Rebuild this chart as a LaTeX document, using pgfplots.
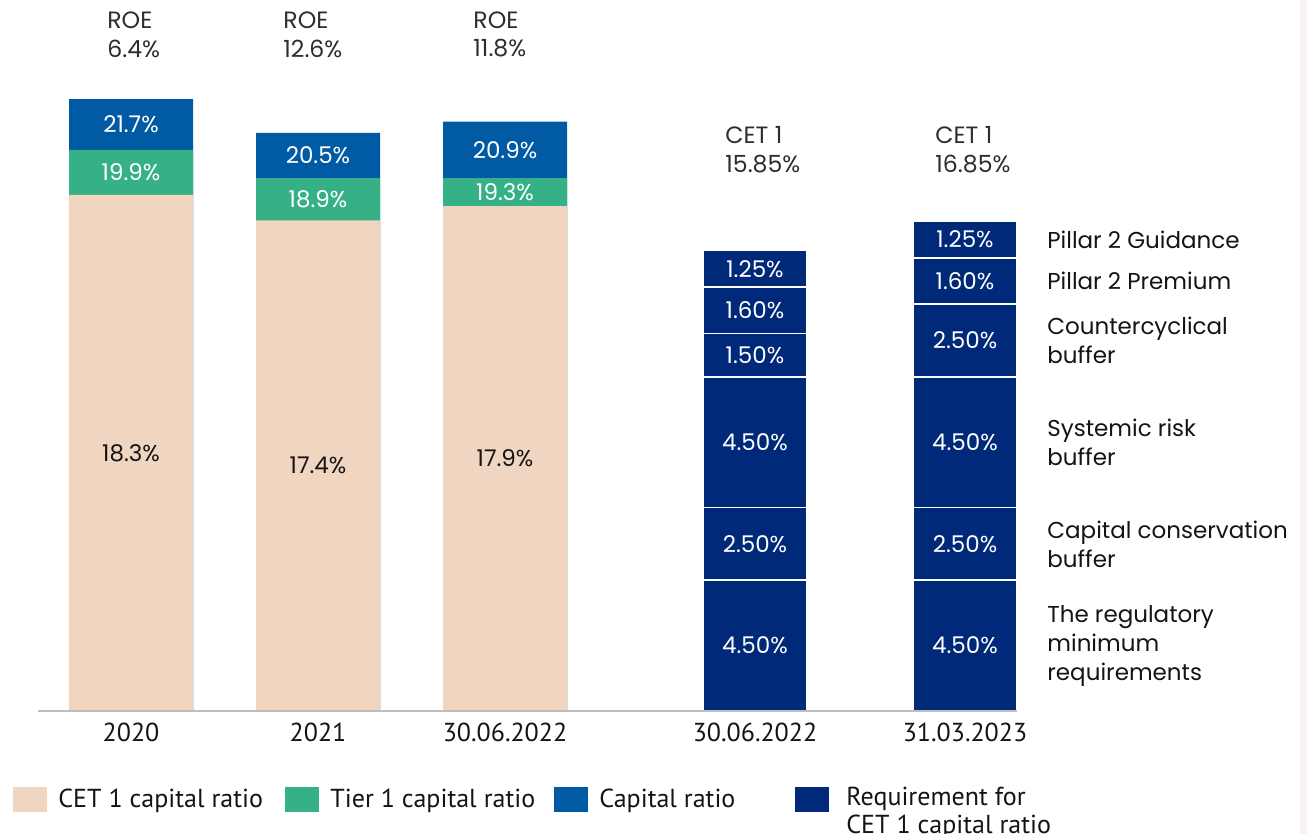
\documentclass[border=0pt]{standalone}
\usepackage{fontspec}
\setmainfont{Poppins}
\newfontfamily\ptsans{PT Sans}
\usepackage{pgfplots}
\pgfplotsset{compat=1.18}

\definecolor{cetbeige}{RGB}{240,213,193}
\definecolor{tiergreen}{RGB}{54,177,133}
\definecolor{capblue}{RGB}{0,91,164}
\definecolor{reqnavy}{RGB}{0,41,121}
\definecolor{basegray}{RGB}{190,190,190}
\definecolor{anno}{RGB}{45,45,45}
\definecolor{txt}{RGB}{20,20,20}
\definecolor{stripcol}{RGB}{249,244,241}

% 1 px of the reference = 0.5pt
\pgfplotsset{
  base/.style={
    at={(0pt,0pt)}, anchor=south west,
    x=0.5pt, xmin=0, xmax=1307, ymin=0,
    enlargelimits=false, clip=false,
    axis line style={draw=none},
    tick style={draw=none},
    ytick=\empty,
  },
  lab/.style={
    draw=none, mark=none, forget plot,
    nodes near coords, point meta=explicit symbolic,
    nodes near coords align=center,
    every node near coord/.append style={
      font=\fontsize{11.5}{13}\selectfont, text=#1, inner sep=0pt},
  },
  bar/.style={ybar, bar shift=0pt, forget plot},
}

\begin{document}
\begin{tikzpicture}
% capital ratios (stacked look: tallest drawn first)
\begin{axis}[base, y=14.1pt, ymax=25.2,
  xtick={131,318,505,755,965},
  xticklabels={2020,2021,30.06.2022,30.06.2022,31.03.2023},
  xticklabel style={font=\ptsans\fontsize{13}{16}\selectfont, text=txt, yshift=-2.5pt},
]
\addplot[bar, bar width=62pt, fill=capblue, draw=none]
  coordinates {(131,21.7) (318,20.5) (505,20.9)};
\addplot[bar, bar width=62pt, fill=tiergreen, draw=none]
  coordinates {(131,19.9) (318,18.9) (505,18.9)};
\addplot[bar, bar width=62pt, fill=cetbeige, draw=none]
  coordinates {(131,18.3) (318,17.4) (505,17.9)};

\addplot[lab=white] coordinates {
  (131,20.8) [21.7\%] (318,19.7) [20.5\%] (505,19.9) [20.9\%]
  (131,19.1) [19.9\%] (318,18.15) [18.9\%] (505,18.4) [19.3\%]};
\addplot[lab=txt] coordinates {
  (131,9.15) [18.3\%] (318,8.7) [17.4\%] (505,8.95) [17.9\%]};

\begin{scope}[every node/.style={anchor=west, inner sep=0pt, font=\fontsize{11.8}{14}\selectfont, text=anno}]
\node at (axis cs:107,24.50) {ROE};
\node at (axis cs:107,23.49) {6.4\%};
\node at (axis cs:283,24.50) {ROE};
\node at (axis cs:283,23.49) {12.6\%};
\node at (axis cs:473,24.50) {ROE};
\node at (axis cs:473,23.49) {11.8\%};
\end{scope}
\end{axis}

% CET 1 requirements
\begin{axis}[base, y=14.525pt, ymax=24.47, xtick=\empty,
  legend columns=4,
  legend cell align=left,
  legend image code/.code={\fill[#1,draw=none] (0pt,-6.25pt) rectangle (17pt,6.25pt);},
  legend style={at={(axis description cs:0.00995,-0.1252)}, anchor=west,
    draw=none, fill=none, inner sep=0pt, column sep=5.5pt,
    nodes={inner sep=0pt}, text=txt,
    font=\ptsans\fontsize{13}{14}\selectfont},
]
\addlegendimage{fill=cetbeige}
\addlegendentry{\makebox[108pt][l]{CET 1 capital ratio}}
\addlegendimage{fill=tiergreen}
\addlegendentry{\makebox[106.5pt][l]{Tier 1 capital ratio}}
\addlegendimage{fill=capblue}
\addlegendentry{\makebox[92.5pt][l]{Capital ratio}}
\addlegendimage{fill=reqnavy}
\addlegendentry{\hspace*{3pt}\raisebox{1.5pt}[\height][0pt]{\begin{tabular}[t]{@{}l@{}}Requirement for\\CET 1 capital ratio\end{tabular}}}

\addplot[bar, bar width=52pt, fill=reqnavy, draw=white, line width=0.8pt]
  coordinates {(755,15.85) (965,16.85)};
\addplot[bar, bar width=52pt, fill=reqnavy, draw=white, line width=0.8pt]
  coordinates {(755,14.6) (965,15.6)};
\addplot[bar, bar width=52pt, fill=reqnavy, draw=white, line width=0.8pt]
  coordinates {(755,13.0) (965,14.0)};
\addplot[bar, bar width=52pt, fill=reqnavy, draw=white, line width=0.8pt]
  coordinates {(755,11.5) (965,11.5)};
\addplot[bar, bar width=52pt, fill=reqnavy, draw=white, line width=0.8pt]
  coordinates {(755,7.0) (965,7.0)};
\addplot[bar, bar width=52pt, fill=reqnavy, draw=white, line width=0.8pt]
  coordinates {(755,4.5) (965,4.5)};

\addplot[lab=white] coordinates {
  (755,2.25) [4.50\%] (755,5.75) [2.50\%] (755,9.25) [4.50\%]
  (755,12.25) [1.50\%] (755,13.8) [1.60\%] (755,15.225) [1.25\%]
  (965,2.25) [4.50\%] (965,5.75) [2.50\%] (965,9.25) [4.50\%]
  (965,12.75) [2.50\%] (965,14.8) [1.60\%] (965,16.225) [1.25\%]};

\draw[basegray, line width=1pt] (axis cs:38,0) -- (axis cs:1017,0);

\begin{scope}[every node/.style={anchor=west, inner sep=0pt, font=\fontsize{11.8}{14}\selectfont, text=anno}]
\node at (axis cs:725,19.82) {CET 1};
\node at (axis cs:725,18.84) {15.85\%};
\node at (axis cs:935,19.82) {CET 1};
\node at (axis cs:935,18.84) {16.85\%};
\end{scope}

\begin{scope}[every node/.style={anchor=west, align=left, inner sep=0pt, font=\fontsize{11.5}{14.5}\selectfont, text=txt}]
\node at (axis cs:1047,16.225) {Pillar 2 Guidance};
\node at (axis cs:1047,14.8) {Pillar 2 Premium};
\node at (axis cs:1047,12.75) {Countercyclical\\buffer};
\node at (axis cs:1047,9.25) {Systemic risk\\buffer};
\node at (axis cs:1047,5.75) {Capital conservation\\buffer};
\node at (axis cs:1047,2.25) {The regulatory\\minimum\\requirements};
\end{scope}
\end{axis}

\fill[stripcol] (650.2pt,-61.5pt) rectangle (653.5pt,355.5pt);
\pgfresetboundingbox
\path (0pt,-61.5pt) rectangle (653.5pt,355.5pt);
\end{tikzpicture}
\end{document}
